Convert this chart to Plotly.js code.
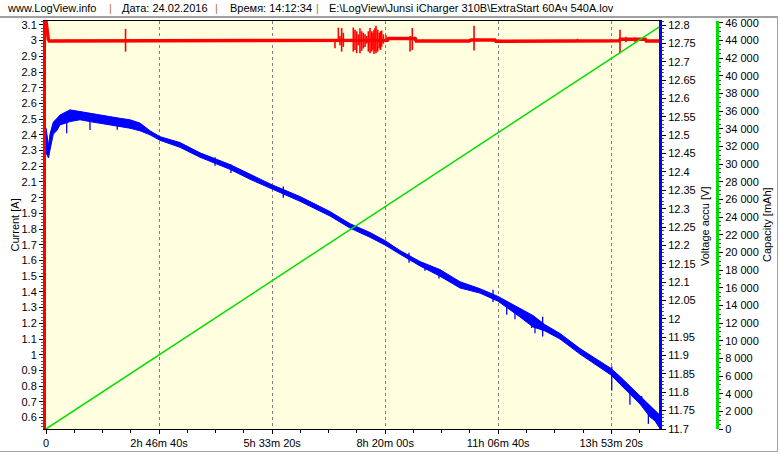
<!DOCTYPE html>
<html>
<head>
<meta charset="utf-8">
<script src="https://cdn.plot.ly/plotly-3.0.1.min.js"></script>
<style>html,body{margin:0;padding:0;background:#fff;}#chart{width:780px;height:455px;}</style>
</head>
<body>
<div id="chart"></div>
<script>
// ---- data ----
const timeTickVals = [0, 10000, 20000, 30000, 40000, 50000];
const timeTickText = ["0", "2h 46m 40s", "5h 33m 20s", "8h 20m 00s", "11h 06m 40s", "13h 53m 20s"];

// Current [A] (base level)
const curT = [0, 40, 100, 200, 300, 25400, 26000, 30200, 30300, 32650, 32750, 37400, 37600, 39700, 39800, 44600, 44700, 50700, 50800, 53000, 53100, 54220];
const curI = [3.125, 3.10, 3.05, 3.01, 2.998, 2.998, 3.0, 3.002, 3.014, 3.014, 2.998, 2.997, 3.004, 3.004, 2.996, 2.996, 2.999, 2.999, 3.009, 3.009, 2.997, 2.997];
// Current spikes: time, low, high
const curSpikeT  = [1000, 2000, 3300, 7035, 25560, 25860, 26000, 26150, 26300, 27180, 27330, 27480, 27630, 27770, 27920, 28070, 28220, 28360, 28510, 28660, 28810, 28920, 29010, 29100, 29190, 29340, 29480, 29590, 29690, 29840, 30070, 32200, 32400, 37860, 47000, 50770, 51300, 52100];
const curSpikeLo = [2.998, 2.998, 2.998, 2.93, 2.952, 2.998, 2.97, 2.93, 2.96, 2.93, 2.94, 2.92, 2.97, 2.92, 2.935, 2.95, 2.96, 2.98, 2.93, 2.92, 2.93, 2.94, 2.915, 2.93, 2.92, 2.93, 2.95, 2.94, 2.96, 2.98, 2.99, 2.93, 2.94, 2.937, 2.998, 2.92, 2.99, 2.99];
const curSpikeHi = [3.006, 3.007, 3.006, 3.075, 3.0, 3.083, 3.03, 3.08, 3.05, 3.083, 3.07, 3.06, 3.04, 3.079, 3.06, 3.05, 3.04, 3.03, 3.06, 3.08, 3.06, 3.05, 3.07, 3.08, 3.094, 3.07, 3.05, 3.06, 3.064, 3.04, 3.035, 3.03, 3.08, 3.094, 3.012, 3.07, 3.025, 3.02];

// Voltage accu [V] (noisy band: upper / lower envelope)
const voltT  = [0, 221, 354, 646, 946, 1238, 2123, 3007, 3892, 4776, 5661, 6545, 7430, 8314, 9199, 10083, 11852, 13621, 16275, 18044, 19990, 22466, 25120, 26889, 28658, 29984, 31311, 33080, 34850, 36618, 38387, 39980, 41926, 43076, 44137, 45464, 47233, 49002, 49975, 50771, 52540, 53425, 53867, 54221];
const voltHi = [12.520, 12.470, 12.503, 12.536, 12.545, 12.555, 12.569, 12.564, 12.561, 12.555, 12.551, 12.546, 12.542, 12.533, 12.512, 12.496, 12.480, 12.452, 12.420, 12.393, 12.365, 12.333, 12.292, 12.259, 12.235, 12.213, 12.186, 12.156, 12.134, 12.101, 12.082, 12.061, 12.028, 12.009, 11.984, 11.960, 11.919, 11.884, 11.865, 11.843, 11.791, 11.764, 11.750, 11.740];
const voltLo = [12.452, 12.438, 12.460, 12.503, 12.512, 12.528, 12.537, 12.542, 12.537, 12.533, 12.528, 12.523, 12.519, 12.512, 12.501, 12.486, 12.467, 12.440, 12.407, 12.380, 12.353, 12.320, 12.280, 12.247, 12.222, 12.201, 12.176, 12.144, 12.116, 12.084, 12.070, 12.048, 12.005, 11.978, 11.967, 11.945, 11.904, 11.866, 11.847, 11.822, 11.768, 11.733, 11.722, 11.705];
// Voltage spikes: time, low, high
const voltSpikeT  = [1830, 3890, 6300, 14950, 16360, 20990, 32110, 33520, 34760, 39540, 40750, 41480, 42960, 43250, 43930, 50040, 51650, 52690, 53280];
const voltSpikeLo = [12.505, 12.514, 12.515, 12.417, 12.397, 12.330, 12.153, 12.131, 12.110, 12.046, 12.011, 11.999, 11.975, 11.961, 11.952, 11.805, 11.766, 11.766, 11.714];
const voltSpikeHi = [12.550, 12.550, 12.540, 12.440, 12.420, 12.360, 12.180, 12.150, 12.130, 12.079, 12.040, 12.030, 12.000, 11.990, 12.006, 11.870, 11.810, 11.790, 11.760];

// Capacity [mAh]
const capT = [0, 10000, 20000, 30000, 40000, 50000, 54220];
const capV = [0, 8390, 16790, 25180, 33580, 41970, 45510];

// ---- helpers ----
function spikes(t, lo, hi) {
  const x = [], y = [];
  for (let i = 0; i < t.length; i++) { x.push(t[i], t[i], null); y.push(lo[i], hi[i], null); }
  return {x, y};
}
const W = 780, H = 455, ML = 46, MR = 50, MT = 21, MB = 26;
const PW = W - ML - MR, PH = H - MT - MB;
const px = v => (v - ML) / PW;
const py = v => (H - MB - v) / PH;

const FONT = "Liberation Sans, Arial, sans-serif";
const RED = "#FF0000", BLUE = "#0000FF", GREEN = "#00DD00";

const cs = spikes(curSpikeT, curSpikeLo, curSpikeHi);
const vs = spikes(voltSpikeT, voltSpikeLo, voltSpikeHi);

const traces = [
  {x: curT, y: curI, yaxis: "y", mode: "lines", line: {color: RED, width: 3.5}, hoverinfo: "skip"},
  {x: cs.x, y: cs.y, yaxis: "y", mode: "lines", line: {color: RED, width: 1.6}, connectgaps: false, hoverinfo: "skip"},
  {x: voltT, y: voltHi, yaxis: "y2", mode: "lines", line: {color: BLUE, width: 1}, hoverinfo: "skip"},
  {x: voltT, y: voltLo, yaxis: "y2", mode: "lines", line: {color: BLUE, width: 1}, fill: "tonexty", fillcolor: BLUE, hoverinfo: "skip"},
  {x: vs.x, y: vs.y, yaxis: "y2", mode: "lines", line: {color: BLUE, width: 1.3}, connectgaps: false, hoverinfo: "skip"},
  {x: capT, y: capV, yaxis: "y3", mode: "lines", line: {color: GREEN, width: 1.5}, hoverinfo: "skip"}
];

const tickFont = {family: FONT, size: 11, color: "#000"};
const baseFont = {family: FONT, size: 11, color: "#000"};
const ann = (o) => Object.assign({xref: "paper", yref: "paper", yanchor: "middle", showarrow: false}, o,
                                 {font: Object.assign({}, baseFont, o.font || {})});
const layout = {
  width: W, height: H,
  margin: {l: ML, r: MR, t: MT, b: MB, pad: 0},
  paper_bgcolor: "#FFFFFF",
  plot_bgcolor: "#FFFFE0",
  showlegend: false,
  separators: ". ",
  font: baseFont,
  xaxis: {
    domain: [0, 613 / PW], range: [0, 54220],
    tickmode: "array", tickvals: timeTickVals, ticktext: timeTickText,
    ticks: "outside", ticklen: 4, tickcolor: "#000", tickfont: tickFont,
    showline: true, linecolor: "#000", linewidth: 1, mirror: true,
    showgrid: true, gridcolor: "#808080", griddash: "3px,3px", gridwidth: 1,
    zeroline: false,
    minor: {dtick: 2500, tick0: 0, ticks: "outside", ticklen: 3, tickcolor: "#000", showgrid: false}
  },
  yaxis: {
    range: [0.527, 3.125], tick0: 0, dtick: 0.1,
    ticks: "outside", ticklen: 4, tickcolor: "#000", tickfont: tickFont,
    showline: true, linecolor: RED, linewidth: 3,
    showgrid: false, zeroline: false,
    minor: {dtick: 0.02, ticks: "outside", ticklen: 2, tickcolor: "#555", showgrid: false}
  },
  yaxis2: {
    overlaying: "y", side: "right", anchor: "x",
    range: [11.7, 12.811], tick0: 0, dtick: 0.05,
    ticks: "outside", ticklen: 4, tickcolor: "#000", tickfont: tickFont,
    showline: true, linecolor: BLUE, linewidth: 3,
    showgrid: false, zeroline: false,
    minor: {dtick: 0.01, ticks: "outside", ticklen: 2, tickcolor: "#555", showgrid: false}
  },
  yaxis3: {
    overlaying: "y", side: "right", anchor: "free", position: px(717),
    range: [0, 46200], tick0: 0, dtick: 2000, tickformat: ",d",
    ticks: "outside", ticklen: 4, tickcolor: "#000", tickfont: tickFont,
    showline: true, linecolor: GREEN, linewidth: 3,
    showgrid: false, zeroline: false,
    minor: {dtick: 500, ticks: "outside", ticklen: 2, tickcolor: "#555", showgrid: false}
  },
  annotations: [
    ann({text: "www.LogView.info", x: px(5), y: py(8), xanchor: "left"}),
    ann({text: "|", x: px(110), y: py(8), xanchor: "center", font: {color: "#B07030"}}),
    ann({text: "Дата: 24.02.2016", x: px(120), y: py(8), xanchor: "left"}),
    ann({text: "|", x: px(216), y: py(8), xanchor: "center", font: {color: "#B07030"}}),
    ann({text: "Время: 14:12:34", x: px(228), y: py(8), xanchor: "left"}),
    ann({text: "|", x: px(317), y: py(8), xanchor: "center", font: {color: "#B07030"}}),
    ann({text: "E:\\LogView\\Junsi iCharger 310B\\ExtraStart 60Ач 540A.lov", x: px(327), y: py(8), xanchor: "left"}),
    ann({text: "Current [A]", x: px(14.5), y: py(225), textangle: -90, xanchor: "center"}),
    ann({text: "Voltage accu [V]", x: px(705), y: py(226), textangle: -90, xanchor: "center"}),
    ann({text: "Capacity [mAh]", x: px(767), y: py(225), textangle: -90, xanchor: "center"})
  ],
  shapes: [
    {type: "line", xref: "paper", yref: "paper", x0: px(0), x1: px(778), y0: py(17), y1: py(17), line: {color: "#404040", width: 1}},
    {type: "line", xref: "paper", yref: "paper", x0: px(0), x1: px(777.5), y0: py(451.5), y1: py(451.5), line: {color: "#A0A0A0", width: 1}},
    {type: "line", xref: "paper", yref: "paper", x0: px(777.5), x1: px(777.5), y0: py(17), y1: py(451.5), line: {color: "#A0A0A0", width: 1}}
  ]
};

Plotly.newPlot("chart", traces, layout, {staticPlot: true, displayModeBar: false});
</script>
</body>
</html>
